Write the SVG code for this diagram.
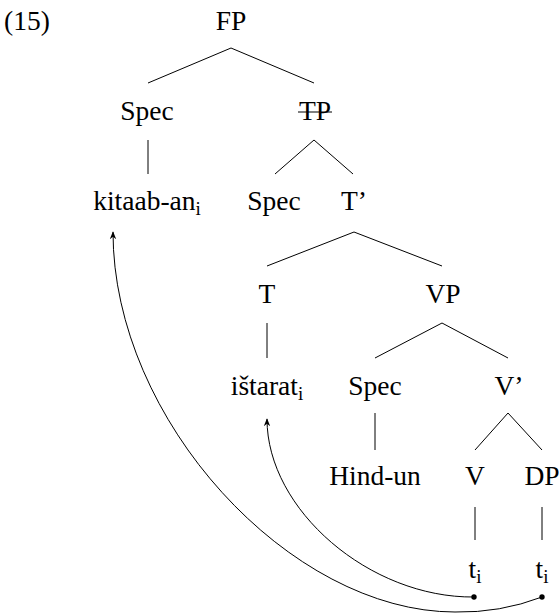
<svg xmlns="http://www.w3.org/2000/svg" width="559" height="614" viewBox="0 0 559 614" font-family="'Liberation Serif', 'DejaVu Serif', serif">
<style>
text{font-family:'Liberation Serif','DejaVu Serif',serif;font-size:27.5px;fill:#000;text-anchor:middle}
.sub{font-size:19px}
.edges line{stroke:#000;stroke-width:1}
.mv{fill:none;stroke:#000;stroke-width:1}
</style>
<defs>
<marker id="ah" viewBox="0 0 10 10" refX="9" refY="5" markerWidth="8" markerHeight="8" orient="auto" markerUnits="userSpaceOnUse">
<path d="M0,1 L10,5 L0,9 L3,5 Z" fill="#000"/>
</marker>
</defs>
<rect width="559" height="614" fill="#fff"/>
<text x="27" y="30">(15)</text>
<g id="FP"><text x="231" y="30">FP</text></g>
<g id="Spec1"><text x="147" y="120">Spec</text></g>
<g id="TP"><text x="315" y="120">TP</text><line x1="298" y1="112" x2="332" y2="112" stroke="#000" stroke-width="1.2"/></g>
<g id="kitaab"><text x="147" y="210">kitaab-an<tspan class="sub" dy="5">i</tspan></text></g>
<g id="Spec2"><text x="274" y="210">Spec</text></g>
<g id="Tbar"><text x="354" y="210">T’</text></g>
<g id="T"><text x="267" y="303">T</text></g>
<g id="VP"><text x="443" y="303">VP</text></g>
<g id="istarat"><text x="267" y="395">ištarat<tspan class="sub" dy="5">i</tspan></text></g>
<g id="Spec3"><text x="375" y="395">Spec</text></g>
<g id="Vbar"><text x="509" y="395">V’</text></g>
<g id="Hind"><text x="375" y="485">Hind-un</text></g>
<g id="V"><text x="475" y="485">V</text></g>
<g id="DP"><text x="542" y="485">DP</text></g>
<g id="t1"><text x="475" y="578">t<tspan class="sub" dy="5">i</tspan></text></g>
<g id="t2"><text x="542" y="578">t<tspan class="sub" dy="5">i</tspan></text></g>
<g class="edges" id="connectors">
<line x1="231" y1="48" x2="148" y2="83"/>
<line x1="231" y1="48" x2="314" y2="83"/>
<line x1="148" y1="140" x2="148" y2="174"/>
<line x1="314" y1="140" x2="275" y2="174"/>
<line x1="314" y1="140" x2="353" y2="174"/>
<line x1="354" y1="232" x2="267" y2="266"/>
<line x1="354" y1="232" x2="442" y2="266"/>
<line x1="267" y1="323" x2="267" y2="358"/>
<line x1="442" y1="323" x2="375" y2="358"/>
<line x1="442" y1="323" x2="508" y2="358"/>
<line x1="375" y1="413" x2="375" y2="450"/>
<line x1="508" y1="413" x2="475" y2="450"/>
<line x1="508" y1="413" x2="542" y2="450"/>
<line x1="475" y1="507" x2="475" y2="540"/>
<line x1="542" y1="507" x2="542" y2="540"/>
<path class="mv" d="M474,597 C370,598 267,510 267,419" marker-end="url(#ah)"/>
<path class="mv" d="M542,597 Q500,613 455,612 C290,612 113,420 113,232" marker-end="url(#ah)"/>
<circle cx="474" cy="597" r="2.7" fill="#000"/>
<circle cx="542" cy="597" r="2.7" fill="#000"/>
</g>
</svg>
